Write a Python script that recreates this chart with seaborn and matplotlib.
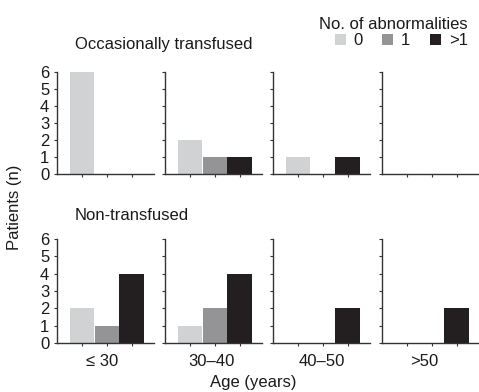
import pandas as pd
import numpy as np
import matplotlib.pyplot as plt
import seaborn as sns
from matplotlib.patches import Patch

# ── data ──────────────────────────────────────────────
AGE_GROUPS = ["\u2264 30", "30\u201340", "40\u201350", ">50"]
ABNORMALITIES = ["0", "1", ">1"]
GROUPS = ["Occasionally transfused", "Non-transfused"]

occasional = [[6, 0, 0], [2, 1, 1], [1, 0, 1], [0, 0, 0]]
non_transfused = [[2, 1, 4], [1, 2, 4], [0, 0, 2], [0, 0, 2]]

COLORS = ["#d1d2d4", "#949497", "#231f20"]

rows = []
for grp, counts in zip(GROUPS, [occasional, non_transfused]):
    for age, vals in zip(AGE_GROUPS, counts):
        for abn, v in zip(ABNORMALITIES, vals):
            rows.append({"group": grp, "age": age, "abn": abn, "count": v})
df = pd.DataFrame(rows)

# ── figure ────────────────────────────────────────────
sns.set_style("white")
plt.rcParams["font.family"] = ["Liberation Sans", "DejaVu Sans"]
plt.rcParams["text.color"] = "#1a1a1a"
plt.rcParams["xtick.color"] = "#1a1a1a"
plt.rcParams["ytick.color"] = "#1a1a1a"
FS = 12

W, H = 479, 392
fig = plt.figure(figsize=(W / 100, H / 100), dpi=100)

lefts = [57, 165, 273, 382]
panel_w = 97
row_box = [(72, 174), (239, 343)]   # pixel y of 6 and 0
label_x = [0.47, 0.48, 0.5, 0.44]

for r, grp in enumerate(GROUPS):
    top, bot = row_box[r]
    for c, age in enumerate(AGE_GROUPS):
        ax = fig.add_axes([lefts[c] / W, 1 - bot / H, panel_w / W, (bot - top) / H])
        sub = df[(df["group"] == grp) & (df["age"] == age)]
        sns.barplot(data=sub, x="abn", y="count", hue="abn", order=ABNORMALITIES,
                    hue_order=ABNORMALITIES, palette=COLORS, width=0.98,
                    legend=False, ax=ax, saturation=1, linewidth=0)
        ax.set_xlim(-1, 2.9)
        ax.set_ylim(0, 6)
        ax.set_yticks(range(7))
        ax.set_xticks([0, 1, 2])
        ax.set_xticklabels([])
        ax.set_ylabel("")
        ax.set_xlabel("")
        for s in ["top", "right"]:
            ax.spines[s].set_visible(False)
        for s in ["left", "bottom"]:
            ax.spines[s].set_color("#333333")
            ax.spines[s].set_linewidth(1.0)
        ax.tick_params(axis="both", direction="out", length=2.5, width=0.8,
                       color="#333333", labelsize=FS, pad=3)
        ax.tick_params(axis="x", bottom=True)
        ax.tick_params(axis="y", left=True)
        if c != 0:
            ax.set_yticklabels([])
        else:
            for t in ax.get_yticklabels():
                t.set_verticalalignment("center_baseline")
        if r == 1:
            ax.text(label_x[c], -0.18, age, transform=ax.transAxes,
                    ha="center", va="center", fontsize=FS)

# group titles
fig.text(75 / W, 1 - 44 / H, GROUPS[0], ha="left", va="center", fontsize=FS)
fig.text(75 / W, 1 - 215 / H, GROUPS[1], ha="left", va="center", fontsize=FS)

# axis labels
fig.text(15 / W, 1 - 207 / H, "Patients (n)", rotation=90, ha="center", va="center", fontsize=FS)
fig.text(253 / W, 1 - 383 / H, "Age (years)", ha="center", va="center", fontsize=FS)

# legend
handles = [Patch(facecolor=col, edgecolor="none", label=lab) for col, lab in zip(COLORS, ABNORMALITIES)]
fig.legend(handles=handles, ncol=3, title="No. of abnormalities", frameon=False,
           loc="upper right", bbox_to_anchor=(476 / W, 1 - 9 / H),
           handlelength=0.66, handleheight=0.62, handletextpad=0.45,
           columnspacing=1.2, borderpad=0, fontsize=FS, title_fontsize=FS,
           labelspacing=0.05, alignment="right")

plt.savefig("out.png", dpi=100)
